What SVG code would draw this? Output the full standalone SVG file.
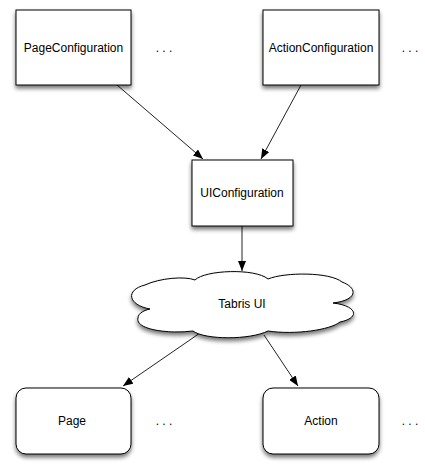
<svg xmlns="http://www.w3.org/2000/svg" width="425" height="466" viewBox="0 0 425 466">
<defs>
<filter id="sh" x="-20%" y="-20%" width="140%" height="150%">
<feGaussianBlur in="SourceAlpha" stdDeviation="2"/>
<feOffset dx="0" dy="3" result="b"/>
<feComponentTransfer><feFuncA type="linear" slope="0.55"/></feComponentTransfer>
<feMerge><feMergeNode/><feMergeNode in="SourceGraphic"/></feMerge>
</filter>
<marker id="ah" markerWidth="10" markerHeight="8" refX="10" refY="4" orient="auto" markerUnits="userSpaceOnUse">
<path d="M0,0 L10,4 L0,8 Z" fill="#000"/>
</marker>
</defs>
<style>
.box{fill:#fff;stroke:#000;stroke-width:1;filter:url(#sh)}
.t{font-family:"Liberation Sans",Arial,sans-serif;font-size:12px;fill:#000;text-anchor:middle;dominant-baseline:central}
.c{stroke:#222;stroke-width:1;fill:none;marker-end:url(#ah)}
</style>
<rect width="425" height="466" fill="#fff"/>
<g id="connectors">
<line class="c" x1="117" y1="85" x2="203" y2="159"/>
<line class="c" x1="301" y1="85" x2="261" y2="159"/>
<line class="c" x1="242" y1="226" x2="242" y2="271"/>
<line class="c" x1="200" y1="333" x2="123" y2="386"/>
<line class="c" x1="264" y1="335" x2="298" y2="386"/>
</g>
<g id="PageConfiguration">
<rect class="box" x="16" y="10" width="115" height="75"/>
<text class="t" x="73.5" y="48">PageConfiguration</text>
</g>
<g id="dots1"><text class="t" x="164" y="48">. . .</text></g>
<g id="ActionConfiguration">
<rect class="box" x="263" y="10" width="116" height="75"/>
<text class="t" x="321" y="48">ActionConfiguration</text>
</g>
<g id="dots2"><text class="t" x="410" y="48">. . .</text></g>
<g id="UIConfiguration">
<rect class="box" x="192" y="160" width="101" height="66"/>
<text class="t" x="242" y="193">UIConfiguration</text>
</g>
<g id="TabrisUI">
<path class="box" d="M150 309 C128 305,125 290,145 285 C160 278,185 276,195 280 C205 270,255 268,268 279 C285 272,330 272,342 282 C358 288,358 300,333 303 C358 306,360 318,340 322 C330 330,295 335,268 331 C250 340,205 340,193 331 C170 334,135 330,138 318 C138 313,145 310,150 309 Z"/>
<text class="t" x="242" y="304">Tabris UI</text>
</g>
<g id="Page">
<rect class="box" x="16" y="388" width="115" height="66" rx="10" ry="10"/>
<text class="t" x="72" y="421">Page</text>
</g>
<g id="dots3"><text class="t" x="164" y="421">. . .</text></g>
<g id="Action">
<rect class="box" x="263" y="388" width="116" height="66" rx="10" ry="10"/>
<text class="t" x="321" y="421">Action</text>
</g>
<g id="dots4"><text class="t" x="410" y="421">. . .</text></g>
</svg>
